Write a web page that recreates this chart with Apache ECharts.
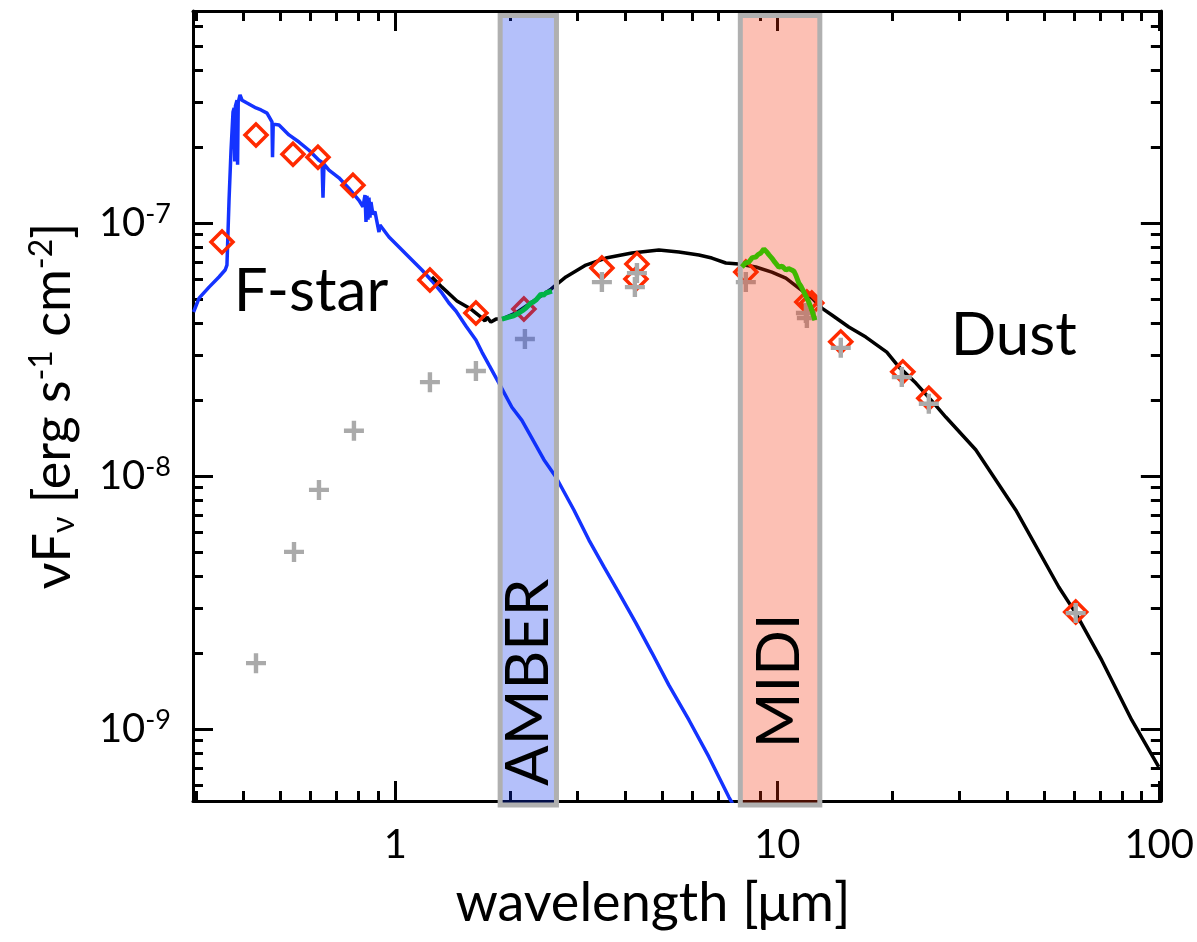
<!DOCTYPE html>
<html><head><meta charset="utf-8">
<script src="https://cdn.jsdelivr.net/npm/echarts@6/dist/echarts.min.js"></script>
<style>html,body{margin:0;padding:0;background:#fff}#c{width:1197px;height:942px}</style>
</head><body><div id="c"></div>
<script>
// ---------- axis ranges & ticks ----------
const xMin = 0.295, xMax = 101;
const yMin = 5.19e-10, yMax = 6.89e-7;
const xMajorTicks = [1, 10, 100];
const xMinorTicks = [0.3,0.4,0.5,0.6,0.7,0.8,0.9,2,3,4,5,6,7,8,9,20,30,40,50,60,70,80,90];
const yMajorTicks = [1e-9, 1e-8, 1e-7];
const yMinorTicks = [6e-10,7e-10,8e-10,9e-10,2e-9,3e-9,4e-9,5e-9,6e-9,7e-9,8e-9,9e-9,
                     2e-8,3e-8,4e-8,5e-8,6e-8,7e-8,8e-8,9e-8,2e-7,3e-7,4e-7,5e-7,6e-7];

// ---------- F-star model (blue) ----------
const starWl = [0.296,0.306,0.325,0.345,0.358,0.362,0.3666,0.371,0.3755,0.378,0.3795,0.381,0.3847,0.386,0.3875,
  0.3917,0.3965,0.4086,0.4313,0.4446,0.4609,0.475,0.4765,0.4785,0.4955,0.5262,0.559,0.5937,0.6305,0.6422,0.646,
  0.6499,0.6697,0.7113,0.7555,0.8024,0.8221,0.8322,0.8372,0.8422,0.8473,0.8524,0.8575,0.8627,0.8731,0.8837,
  0.8945,0.9054,0.9109,0.9616,1.0214,1.0847,1.1733,1.2458,1.3233,1.3804,1.44,1.5294,1.6244,1.6845,1.757,1.8662,
  2.0181,2.1436,2.2364,2.4475,2.6313,2.9327,3.2113,3.5155,3.847,4.2635,4.6953,5.2,5.867,6.619,7.465,7.74];
const starFlux = [4.45e-8,5.05e-8,5.58e-8,6.12e-8,6.52e-8,6.82e-8,1.23e-7,1.94e-7,2.75e-7,2.85e-7,1.75e-7,2.9e-7,3.06e-7,1.7e-7,3.0e-7,
  3.21e-7,3.06e-7,2.98e-7,2.85e-7,2.8e-7,2.72e-7,2.51e-7,1.82e-7,2.46e-7,2.44e-7,2.23e-7,2.09e-7,1.94e-7,1.77e-7,1.74e-7,1.26e-7,
  1.71e-7,1.62e-7,1.51e-7,1.37e-7,1.23e-7,1.16e-7,1.29e-7,1.01e-7,1.28e-7,1.03e-7,1.26e-7,1.05e-7,1.21e-7,1.08e-7,1.11e-7,
  1.01e-7,9.21e-8,9.82e-8,8.81e-8,8.04e-8,7.34e-8,6.52e-8,5.9e-8,5.29e-8,4.83e-8,4.49e-8,3.92e-8,3.45e-8,3.09e-8,2.75e-8,2.33e-8,
  1.87e-8,1.66e-8,1.48e-8,1.16e-8,9.91e-9,7.34e-9,5.58e-9,4.37e-9,3.45e-9,2.62e-9,2.0e-9,1.49e-9,1.085e-9,7.75e-10,5.38e-10,4.89e-10];

// ---------- total model star + dust (black) ----------
const totalWl = [1.2458,1.3233,1.4487,1.5761,1.6743,1.7152,1.7359,1.7783,1.8327,1.9002,2.0675,2.2769,2.5534,2.7947,3.1527,
  3.5563,4.1593,4.8953,5.5231,6.2317,6.7385,7.3318,7.929,8.7838,9.6741,10.527,11.385,12.312,13.077,13.889,15.387,17.053,
  19.346,20.803,23.051,25.386,27.61,33.078,42.098,54.574,60.45,70.714,84.723,99.7];
const totalFlux = [6.12e-8,5.58e-8,4.92e-8,4.57e-8,4.25e-8,4.1e-8,4.25e-8,4.06e-8,4.17e-8,4.17e-8,4.41e-8,4.87e-8,5.48e-8,6.12e-8,6.82e-8,
  7.27e-8,7.61e-8,7.82e-8,7.68e-8,7.47e-8,7.27e-8,6.95e-8,6.89e-8,6.7e-8,6.4e-8,6.06e-8,5.53e-8,5.05e-8,4.61e-8,4.33e-8,3.88e-8,3.54e-8,
  3.09e-8,2.7e-8,2.33e-8,1.98e-8,1.71e-8,1.27e-8,7.34e-9,3.64e-9,2.87e-9,1.87e-9,1.085e-9,7.08e-10];

// ---------- AMBER & MIDI spectra (green) ----------
const amberWl = [1.9002,1.9823,2.04,2.1051,2.15,2.1961,2.2633,2.3,2.3327,2.4043,2.44,2.4774,2.5688];
const amberFlux = [4.17e-8,4.25e-8,4.3e-8,4.41e-8,4.5e-8,4.61e-8,4.83e-8,4.88e-8,4.96e-8,5.24e-8,5.18e-8,5.29e-8,5.38e-8];
const midiWl = [8.074,8.25,8.422,8.6,8.784,8.9,9.054,9.219,9.387,9.5,9.674,9.85,10.09,10.3,10.53,10.7,10.91,11.05,11.18,11.385,11.55,11.73,12.09,12.31,12.54];
const midiFlux = [6.7e-8,6.95e-8,7.01e-8,7.3e-8,7.34e-8,7.5e-8,7.61e-8,7.89e-8,7.68e-8,7.5e-8,7.27e-8,7.0e-8,6.7e-8,6.75e-8,6.52e-8,6.6e-8,6.52e-8,6.45e-8,6.23e-8,5.79e-8,5.6e-8,5.34e-8,4.87e-8,4.53e-8,4.13e-8];

// ---------- photometry ----------
const photWl = [0.3514,0.4313,0.5391,0.6267,0.7738,1.231,1.6244,2.1694,3.4722,4.289,4.2635,8.27,11.95,12.31,14.66,21.31,24.93,60.45];
const photFlux = [8.41e-8,2.23e-7,1.87e-7,1.82e-7,1.41e-7,5.95e-8,4.41e-8,4.57e-8,6.64e-8,6.89e-8,6.01e-8,6.4e-8,4.87e-8,4.83e-8,3.39e-8,2.58e-8,2.03e-8,2.9e-9];
const obsWl = [0.4313,0.5424,0.6305,0.7785,1.231,1.6244,2.1826,3.4722,4.289,4.2362,8.27,11.88,11.95,14.66,21.18,24.93,60.45];
const obsFlux = [1.82e-9,5.01e-9,8.81e-9,1.51e-8,2.35e-8,2.6e-8,3.48e-8,5.84e-8,6.34e-8,5.58e-8,5.84e-8,4.41e-8,4.21e-8,3.21e-8,2.46e-8,1.93e-8,2.87e-9];

// ---------- instrument bands ----------
const bandNames = ['AMBER', 'MIDI'];
const bandStart = [1.88, 8.0];
const bandEnd = [2.64, 12.92];
const bandTop = 6.61e-7, bandBottom = 5.0e-10;

// ---------- annotations ----------
const noteText = ['F-star', 'Dust', 'AMBER', 'MIDI'];
const noteWl = [0.601, 41.6, 2.229, 10.15];
const noteFlux = [5.34e-8, 3.58e-8, 1.53e-9, 1.55e-9];

const zip = (a, b) => a.map((v, i) => [v, b[i]]);
const FONT = 'Lato';
const bandFills = ['rgba(5,45,238,0.30)', 'rgba(245,45,5,0.30)'];

function axisPair(dim, pos, major, minor, showLabel) {
  const base = {
    type: 'log', min: dim === 'x' ? xMin : yMin, max: dim === 'x' ? xMax : yMax,
    position: pos, splitLine: { show: false }, logBase: 10
  };
  const a = Object.assign({}, base, {
    axisLine: { show: true, lineStyle: { color: '#000', width: 3 } },
    axisTick: { show: true, inside: true, length: 20, customValues: major, lineStyle: { color: '#000', width: 3 } },
    axisLabel: { show: showLabel, customValues: major }
  });
  const b = Object.assign({}, base, {
    axisLine: { show: false },
    axisTick: { show: true, inside: true, length: 10, customValues: minor, lineStyle: { color: '#000', width: 3 } },
    axisLabel: { show: false }
  });
  return [a, b];
}

const xAxes = [...axisPair('x', 'bottom', xMajorTicks, xMinorTicks, true), ...axisPair('x', 'top', xMajorTicks, xMinorTicks, false)];
const yAxes = [...axisPair('y', 'left', yMajorTicks, yMinorTicks, true), ...axisPair('y', 'right', yMajorTicks, yMinorTicks, false)];

xAxes[0].axisLabel = {
  show: true, customValues: xMajorTicks, margin: 24, color: '#000', fontFamily: FONT, fontSize: 40,
  formatter: v => String(Math.round(v))
};
xAxes[0].name = 'wavelength [μm]';
xAxes[0].nameLocation = 'middle';
xAxes[0].nameGap = 76;
xAxes[0].nameTextStyle = { color: '#000', fontFamily: FONT, fontSize: 54, padding: [0, 48, 0, 0] };

yAxes[0].axisLabel = {
  show: true, customValues: yMajorTicks, margin: 22, color: '#000', fontFamily: FONT,
  formatter: v => '{b|10}{s|' + Math.round(Math.log10(v)) + '}',
  rich: {
    b: { fontFamily: FONT, fontSize: 40, color: '#000', lineHeight: 44 },
    s: { fontFamily: FONT, fontSize: 27, color: '#000', verticalAlign: 'top', lineHeight: 44, padding: [0, 0, 16, 0] }
  }
};
yAxes[0].name = '{b|νF}{sub|ν}{b| [erg s}{sup|-1}{b| cm}{sup|-2}{b|]}';
yAxes[0].nameLocation = 'middle';
yAxes[0].nameGap = 110;
yAxes[0].nameTextStyle = {
  color: '#000', fontFamily: FONT, fontSize: 52,
  rich: {
    b: { fontFamily: FONT, fontSize: 52, color: '#000', lineHeight: 60 },
    sub: { fontFamily: FONT, fontSize: 32, color: '#000', lineHeight: 60, padding: [22, 0, 0, 0] },
    sup: { fontFamily: FONT, fontSize: 32, color: '#000', lineHeight: 60, padding: [0, 0, 22, 0] }
  }
};

const chart = echarts.init(document.getElementById('c'), null, { renderer: 'canvas' });
chart.setOption({
  animation: false,
  backgroundColor: '#fff',
  grid: { left: 193, right: 36, top: 11, bottom: 141, containLabel: false },
  xAxis: xAxes,
  yAxis: yAxes,
  series: [
    { name: 'F-star', type: 'line', data: zip(starWl, starFlux), showSymbol: false, silent: true, z: 3,
      lineStyle: { color: '#1433ff', width: 3.5 } },
    { name: 'total', type: 'line', data: zip(totalWl, totalFlux), showSymbol: false, silent: true, z: 4,
      lineStyle: { color: '#000', width: 3.5 } },
    { name: 'photometry', type: 'scatter', data: zip(photWl, photFlux), symbol: 'diamond', symbolSize: [22, 22], silent: true, z: 5,
      itemStyle: { color: 'rgba(0,0,0,0)', borderColor: '#ff2a00', borderWidth: 3.5, opacity: 1 } },
    { name: 'observed', type: 'scatter', data: zip(obsWl, obsFlux), silent: true, z: 6,
      symbol: 'path://M-1.1,-5 L1.1,-5 L1.1,-1.1 L5,-1.1 L5,1.1 L1.1,1.1 L1.1,5 L-1.1,5 L-1.1,1.1 L-5,1.1 L-5,-1.1 L-1.1,-1.1 Z', symbolSize: 20,
      itemStyle: { color: '#aaaaaa', opacity: 1 } },
    { name: 'bands', type: 'custom', data: zip(bandStart, bandEnd), silent: true, z: 7, clip: false,
      renderItem: function (params, api) {
        const p1 = api.coord([api.value(0), bandTop]);
        const p2 = api.coord([api.value(1), bandBottom]);
        return { type: 'rect', shape: { x: p1[0], y: p1[1], width: p2[0] - p1[0], height: p2[1] - p1[1] },
          style: { fill: bandFills[params.dataIndex], stroke: '#b0b0b0', lineWidth: 5 } };
      } },
    { name: 'AMBER', type: 'line', data: zip(amberWl, amberFlux), showSymbol: false, silent: true, z: 8,
      lineStyle: { color: '#00b347', width: 5 } },
    { name: 'MIDI', type: 'line', data: zip(midiWl, midiFlux), showSymbol: false, silent: true, z: 8,
      lineStyle: { color: '#40b800', width: 5 } },
    { name: 'notes', type: 'scatter', symbolSize: 0, silent: true, z: 9,
      itemStyle: { opacity: 1 },
      data: noteText.map((t, i) => ({ value: [noteWl[i], noteFlux[i]], name: t,
        label: { rotate: (t === 'AMBER' || t === 'MIDI') ? 90 : 0 } })),
      label: { show: true, position: 'inside', formatter: p => p.name, color: '#000', opacity: 1, fontFamily: FONT, fontSize: 60 } }
  ]
});
</script>
</body></html>
